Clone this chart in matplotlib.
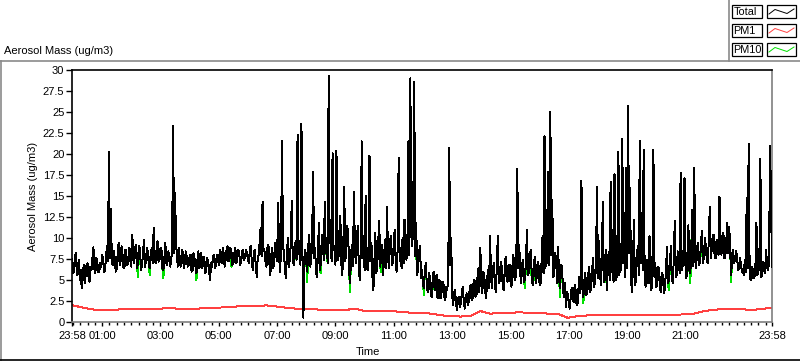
import matplotlib
matplotlib.use("Agg")
import matplotlib.pyplot as plt
from matplotlib.lines import Line2D
from matplotlib.patches import Rectangle
import numpy as np

W, H = 800, 361

# ---- data: minutes since 23:58, Total sampled every 2 minutes (one row per hour) ----
total_step_min = 2
total = [
    7.5, 5.8, 6.0, 7.9, 8.2, 5.6, 6.5, 7.4, 5.0, 6.2, 4.0, 5.2, 6.8, 4.6, 5.5, 6.9, 7.0, 5.4, 4.8, 6.6, 6.2, 7.5, 8.9, 6.4, 5.8, 7.6, 7.2, 5.9, 6.0, 7.0,
    6.5, 8.0, 7.4, 5.9, 6.2, 7.8, 9.0, 7.2, 20.3, 7.6, 13.5, 7.0, 6.8, 8.4, 7.6, 6.0, 6.4, 8.2, 9.4, 6.8, 7.2, 9.0, 8.0, 6.4, 6.6, 8.6, 7.8, 6.8, 7.0, 8.8,
    8.2, 6.6, 10.4, 7.8, 7.0, 8.8, 9.2, 6.4, 7.2, 9.0, 8.6, 6.2, 6.8, 8.0, 9.8, 6.6, 7.2, 8.8, 8.4, 6.8, 6.4, 8.2, 8.8, 7.0, 11.2, 7.4, 7.0, 8.6, 9.6, 7.2,
    7.4, 8.8, 8.6, 6.4, 6.2, 7.6, 9.4, 7.0, 6.8, 8.4, 8.0, 6.6, 7.2, 9.0, 23.3, 8.2, 15.4, 9.6, 7.6, 6.6, 8.8, 7.0, 6.6, 8.6, 8.2, 6.4, 7.0, 8.4, 7.8, 6.6,
    6.8, 7.8, 8.0, 6.0, 6.2, 8.2, 7.6, 6.6, 5.8, 7.4, 8.4, 6.4, 7.0, 8.2, 6.4, 7.2, 7.8, 5.8, 6.0, 7.6, 7.2, 6.2, 5.0, 7.0, 6.6, 7.8, 8.0, 6.4, 6.8, 8.0,
    7.8, 6.8, 8.6, 7.2, 7.0, 8.8, 8.2, 6.6, 7.4, 8.6, 9.0, 7.2, 7.6, 8.8, 8.4, 6.8, 7.0, 8.2, 8.8, 7.0, 7.6, 8.6, 8.2, 6.8, 7.2, 8.4, 8.6, 7.4, 7.8, 8.6,
    8.2, 7.4, 7.0, 8.8, 9.0, 7.0, 6.2, 8.4, 8.6, 6.8, 5.4, 7.6, 8.0, 9.4, 11.2, 7.8, 14.3, 8.6, 8.4, 7.2, 6.6, 8.8, 9.2, 7.0, 5.6, 8.0, 8.8, 6.4, 7.0, 9.4,
    9.0, 7.2, 14.2, 8.0, 6.0, 8.6, 21.6, 9.0, 8.4, 6.4, 5.2, 7.8, 10.0, 6.6, 7.4, 9.2, 14.4, 7.6, 6.8, 8.8, 9.6, 7.4, 22.3, 9.4, 8.0, 6.8, 23.6, 8.2, 0.5, 7.6,
    8.6, 7.0, 6.0, 9.0, 10.4, 6.6, 7.2, 9.8, 17.9, 7.6, 8.8, 6.0, 5.4, 8.4, 11.8, 6.2, 7.0, 10.4, 9.6, 7.4, 14.3, 8.2, 10.0, 7.0, 29.3, 9.4, 11.5, 7.2, 20.1, 8.6,
    9.0, 6.8, 20.4, 8.8, 7.4, 10.6, 12.6, 7.0, 5.6, 8.2, 16.1, 7.2, 8.4, 11.4, 10.8, 6.2, 4.6, 8.0, 9.2, 6.6, 15.5, 8.6, 7.0, 9.8, 11.4, 6.4, 5.0, 8.4, 21.5, 7.6,
    8.0, 6.2, 15.0, 7.4, 6.2, 9.0, 19.8, 7.2, 9.4, 5.4, 3.8, 7.0, 10.6, 5.8, 6.8, 9.6, 12.0, 6.6, 7.6, 9.2, 5.6, 7.8, 9.8, 6.4, 13.7, 8.0, 6.4, 9.4, 10.2, 6.8,
    7.0, 9.6, 11.0, 6.8, 6.0, 8.8, 19.5, 7.2, 8.6, 6.4, 10.0, 7.0, 12.2, 8.2, 7.4, 9.4, 21.5, 8.0, 29.0, 10.4, 9.0, 12.6, 28.6, 7.8, 11.8, 5.6, 6.4, 8.4, 9.0, 5.2,
    6.2, 4.6, 4.0, 6.4, 7.0, 4.2, 3.6, 5.8, 5.4, 3.4, 3.0, 5.2, 6.0, 3.8, 4.4, 5.6, 2.8, 4.0, 5.0, 2.8, 3.4, 4.8, 4.6, 3.0, 2.6, 4.2, 3.8, 5.6, 20.7, 6.8,
    10.0, 3.2, 2.0, 3.4, 3.8, 2.2, 1.4, 2.8, 3.0, 1.8, 2.2, 3.6, 4.2, 2.4, 1.6, 3.0, 3.4, 2.0, 2.4, 3.8, 4.4, 2.6, 2.8, 4.6, 5.0, 3.0, 3.2, 5.2, 6.4, 3.6,
    8.8, 4.4, 3.4, 6.0, 5.6, 3.6, 2.8, 5.2, 6.2, 4.0, 10.3, 5.4, 4.0, 6.4, 7.0, 4.2, 3.6, 6.8, 10.2, 4.6, 5.0, 7.2, 6.6, 4.4, 3.8, 6.0, 7.8, 5.2, 4.8, 6.8,
    6.8, 4.8, 4.2, 6.6, 8.0, 5.4, 5.0, 7.0, 18.2, 6.4, 9.2, 5.8, 4.6, 6.8, 7.4, 4.8, 5.2, 7.6, 11.0, 5.6, 6.0, 8.0, 8.6, 5.0, 4.4, 6.6, 7.8, 4.6, 5.4, 7.2,
    6.6, 4.4, 4.6, 7.2, 10.2, 5.8, 22.1, 6.4, 13.4, 7.0, 17.9, 6.8, 25.0, 8.0, 14.5, 5.4, 5.6, 8.2, 7.4, 4.6, 8.9, 5.2, 4.0, 6.8, 6.6, 3.8, 3.0, 4.6, 1.8, 3.6,
    3.2, 2.2, 1.6, 3.0, 4.1, 2.6, 2.4, 4.4, 3.8, 2.0, 2.2, 4.0, 5.4, 3.4, 16.8, 4.2, 3.0, 5.0, 5.8, 3.2, 3.4, 5.6, 6.6, 3.6, 4.0, 6.2, 7.6, 4.2, 4.8, 7.0,
    16.1, 5.2, 9.7, 6.0, 4.4, 7.2, 14.3, 4.8, 6.2, 8.6, 3.8, 6.4, 8.4, 5.0, 16.7, 6.0, 11.0, 4.8, 17.6, 6.6, 5.0, 9.4, 20.3, 5.6, 8.0, 6.2, 21.8, 7.0, 13.0, 5.4,
    18.3, 6.4, 25.7, 8.2, 16.0, 5.0, 3.6, 6.8, 12.2, 4.4, 5.0, 7.8, 9.0, 5.6, 21.5, 7.0, 13.0, 6.2, 20.5, 5.8, 4.2, 7.4, 6.2, 4.6, 10.2, 5.0, 3.8, 6.6, 20.5, 5.4,
    7.0, 4.2, 4.4, 6.6, 6.0, 3.8, 3.6, 5.8, 5.4, 3.4, 4.2, 6.4, 8.9, 4.6, 5.0, 7.0, 9.0, 5.2, 4.6, 7.6, 12.0, 5.4, 5.6, 8.4, 8.0, 5.8, 17.8, 6.2, 6.6, 8.6,
    17.1, 6.8, 5.2, 8.0, 11.5, 6.2, 5.8, 8.8, 13.4, 6.6, 18.4, 7.4, 6.4, 9.0, 9.4, 6.8, 7.2, 9.6, 10.8, 7.0, 7.8, 10.0, 9.0, 7.2, 7.0, 9.8, 13.7, 7.6, 8.6, 10.2,
    10.4, 7.8, 7.6, 9.8, 9.0, 8.0, 14.9, 8.4, 8.0, 10.2, 10.6, 7.6, 7.8, 9.6, 11.8, 8.2, 11.3, 8.6, 5.6, 8.0, 8.6, 7.0, 7.4, 8.4, 8.0, 6.2, 6.4, 7.6, 7.0, 6.0,
    6.2, 5.6, 7.4, 6.0, 14.8, 6.4, 21.2, 5.8, 5.0, 6.6, 6.4, 5.2, 5.4, 6.8, 11.8, 5.6, 6.0, 7.0, 19.4, 5.4, 5.6, 7.2, 6.8, 5.8, 8.6, 6.4, 6.2, 7.2, 21.0, 14.5, 6.6,
]

# PM10 follows Total except at these samples (sample index -> value)
pm10_differs = {
    40: 11.0, 54: 6.8, 68: 5.4, 80: 5.6, 94: 5.2, 128: 5.0, 164: 6.6, 230: 8.0,
    242: 4.8, 248: 12.0, 256: 5.8, 262: 8.0, 268: 14.0, 276: 9.5, 286: 3.6,
    298: 15.0, 306: 14.0, 318: 6.0, 322: 7.8, 340: 8.0, 346: 16.0, 354: 8.4,
    362: 3.2, 372: 4.6, 382: 3.6, 430: 7.4, 458: 12.0, 466: 4.0, 472: 6.4,
    476: 6.0, 486: 15.0, 492: 17.0, 502: 3.0, 522: 4.2, 526: 2.2, 540: 11.0,
    548: 4.8, 562: 14.0, 574: 11.0, 578: 9.0, 588: 14.0, 600: 5.6, 614: 3.8,
    636: 4.6, 648: 8.6, 674: 9.6, 678: 4.8,
}

pm1_step_min = 20
pm1 = [
    2.0, 1.75, 1.5, 1.45, 1.45, 1.5, 1.5, 1.55, 1.6, 1.6, 1.62, 1.6, 1.58,
    1.6, 1.65, 1.7, 1.78, 1.85, 1.85, 1.9, 1.98, 1.85, 1.7, 1.6, 1.55, 1.5,
    1.45, 1.4, 1.38, 1.6, 1.35, 1.3, 1.25, 1.3, 1.15, 1.12, 1.05, 1.0, 0.8,
    0.68, 0.65, 0.7, 1.3, 1.0, 1.05, 1.1, 1.15, 1.1, 1.05, 1.0, 0.95, 0.5,
    0.7, 0.78, 0.8, 0.8, 0.82, 0.8, 0.8, 0.85, 0.82, 0.85, 0.88, 0.9, 1.0,
    1.3, 1.45, 1.55, 1.6, 1.5, 1.45, 1.55, 1.7,
]

tick_minutes = [0, 62, 182, 302, 422, 542, 662, 782, 902, 1022, 1142, 1262, 1440]
tick_labels = ["23:58", "01:00", "03:00", "05:00", "07:00", "09:00", "11:00",
               "13:00", "15:00", "17:00", "19:00", "21:00", "23:58"]
y_ticks = [0, 2.5, 5, 7.5, 10, 12.5, 15, 17.5, 20, 22.5, 25, 27.5, 30]

legend_names = ["Total", "PM1", "PM10"]
colors = {"Total": "#000000", "PM1": "#ff4040", "PM10": "#00e000"}

# ---- build ----
t_total = np.arange(len(total)) * total_step_min
pm10 = list(total)
for k, v in pm10_differs.items():
    pm10[k] = v
t_pm1 = np.arange(len(pm1)) * pm1_step_min

plt.rcParams["font.family"] = ["Liberation Sans", "DejaVu Sans"]
plt.rcParams["font.size"] = 8

fig = plt.figure(figsize=(W / 100, H / 100), dpi=100)
fig.patch.set_facecolor("white")

L, R, T, B = 72, 772, 70, 322
ax = fig.add_axes([L / W, 1 - B / H, (R - L) / W, (B - T) / H])
ax.set_facecolor("white")

LW = 0.72  # one pixel at 100 dpi
ax.plot(t_pm1, pm1, color=colors["PM1"], lw=LW, zorder=2, antialiased=False)
ax.plot(t_total, pm10, color=colors["PM10"], lw=LW, zorder=3, antialiased=False)
ax.plot(t_total, total, color=colors["Total"], lw=LW, zorder=4, antialiased=False)

ax.set_xlim(0, 1440)
ax.set_ylim(0, 30)

ax.set_xticks(tick_minutes)
ax.set_xticklabels(tick_labels)
ax.set_xticks(np.arange(2, 1440, 15), minor=True)
ax.set_yticks(y_ticks)
ax.set_yticklabels([("%g" % v) for v in y_ticks])

ax.tick_params(axis="x", which="major", length=3.2, width=1, pad=3.5, colors="black")
ax.tick_params(axis="x", which="minor", length=2.3, width=1, colors="black")
ax.tick_params(axis="y", which="major", length=4, width=1, pad=1.5, colors="black")

for side in ["top", "left"]:
    ax.spines[side].set_color("black")
    ax.spines[side].set_linewidth(1.2)
for side in ["right", "bottom"]:
    ax.spines[side].set_color("#7f7f7f")
    ax.spines[side].set_linewidth(1.2)

ax.set_ylabel("Aerosol Mass (ug/m3)")
ax.yaxis.set_label_coords((38 - L) / (R - L), 0.5)

fig.text(368 / W, 1 - 352 / H, "Time", ha="center", va="center")
fig.text(4 / W, 1 - 51 / H, "Aerosol Mass (ug/m3)", ha="left", va="center")

# panel frame lines
def fline(x0, y0, x1, y1, c, lw=1.0):
    fig.add_artist(Line2D([x0 / W, x1 / W], [1 - y0 / H, 1 - y1 / H], color=c, lw=lw))

fline(0, 61, W, 61, "#8a8a8a", 1.2)
fline(729, 0, 729, 61, "#8a8a8a", 1.2)
fline(1, 61, 1, H, "#8a8a8a", 1.2)
fline(0, 360, W, 360, "black", 1.2)

# legend
rows_y = [4.5, 23.5, 42.5]
for name, y0 in zip(legend_names, rows_y):
    fig.add_artist(Rectangle((732 / W, 1 - (y0 + 13.5) / H), 30 / W, 13.5 / H,
                             transform=fig.transFigure, fill=False, ec="black", lw=0.9))
    fig.text(733.5 / W, 1 - (y0 + 7.2) / H, name, ha="left", va="center", fontsize=7.8)
    fig.add_artist(Rectangle((767 / W, 1 - (y0 + 13.5) / H), 29 / W, 13.5 / H,
                             transform=fig.transFigure, fill=False, ec="black", lw=0.9))
    xs = [769, 775, 787, 794]
    ys = [y0 + 9.5, y0 + 5, y0 + 9, y0 + 4.5]
    fig.add_artist(Line2D([x / W for x in xs], [1 - y / H for y in ys],
                          color=colors[name], lw=0.7))

fig.savefig("out.png", dpi=100)
